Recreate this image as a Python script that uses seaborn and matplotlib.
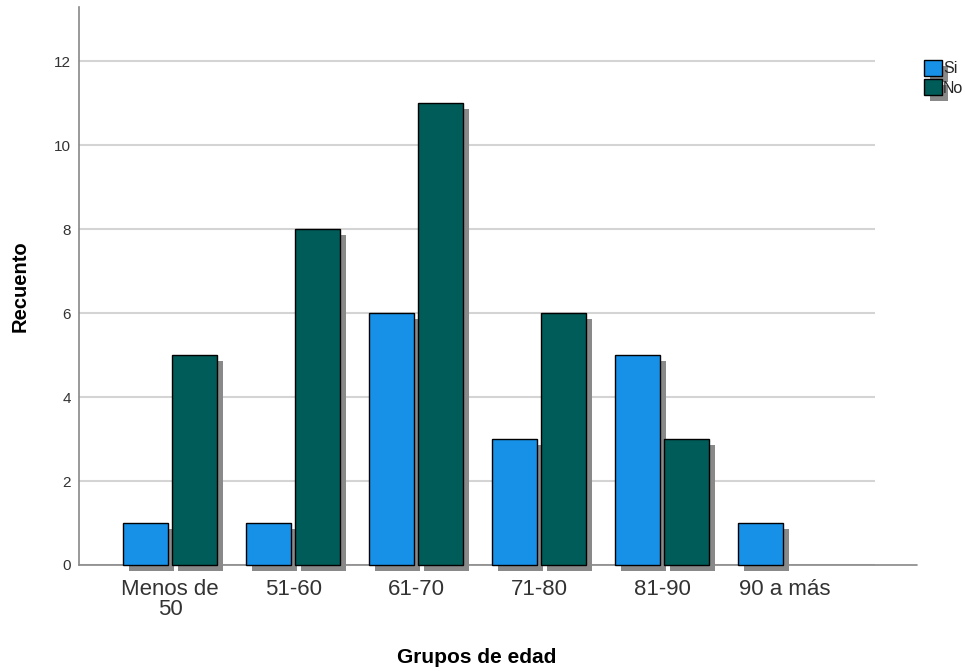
import matplotlib
matplotlib.use("Agg")
import matplotlib.pyplot as plt
import matplotlib.patheffects as pe
from matplotlib.patches import Patch
from matplotlib.lines import Line2D
import numpy as np
import pandas as pd
import seaborn as sns

# Counts per age group, split by answer
grupos = ["Menos de\n50", "51-60", "61-70", "71-80", "81-90", "90 a más"]
si = [1, 1, 6, 3, 5, 1]
no = [5, 8, 11, 6, 3, np.nan]
respuestas = ["Si", "No"]
y_ticks = [0, 2, 4, 6, 8, 10, 12]

colores = {"Si": "#1791e8", "No": "#005c58"}
sombra = "#898989"

df = pd.DataFrame({
    "Grupos de edad": grupos * 2,
    "Recuento": si + no,
    "Respuesta": ["Si"] * len(grupos) + ["No"] * len(grupos),
})

sns.set_theme(style="white")
plt.rcParams["font.family"] = ["Liberation Sans", "DejaVu Sans"]

fig = plt.figure(figsize=(9.65, 6.71), dpi=100)
ax = fig.add_axes([79 / 965, 106 / 671, (875 - 79) / 965, (565 - 7) / 671])

sns.barplot(data=df, x="Grupos de edad", y="Recuento", hue="Respuesta",
            hue_order=respuestas, order=grupos, palette=colores, saturation=1,
            width=0.8, gap=0.09, edgecolor="black", linewidth=1.0,
            errorbar=None, legend=False, ax=ax, zorder=3)

shadow = [pe.SimplePatchShadow(offset=(4.3, -4.3), shadow_rgbFace=sombra, alpha=1.0),
          pe.Normal()]
for p in ax.patches:
    p.set_path_effects(shadow)
    p.set_clip_on(False)

ax.set_xlim(-0.74, 5.73)
ax.set_ylim(0, 13.29)
ax.set_yticks(y_ticks)
ax.set_yticklabels([str(t) for t in y_ticks])
ax.yaxis.grid(True, color="#d4d4d4", linewidth=1.5, zorder=0)
ax.set_axisbelow(True)

ax.tick_params(axis="y", length=0, pad=6, labelsize=11, labelcolor="#333333")
ax.tick_params(axis="x", length=0, pad=10, labelsize=16, labelcolor="#333333")
for lbl in ax.get_xticklabels():
    lbl.set_linespacing(0.95)

for s in ["top", "right", "bottom"]:
    ax.spines[s].set_visible(False)
ax.spines["left"].set_color("#888888")
ax.spines["left"].set_linewidth(1.2)
# baseline runs past the plotting area on the right
ax.add_line(Line2D([0, (917 - 79) / (875 - 79)], [0, 0], transform=ax.transAxes,
                   color="#888888", linewidth=1.2, clip_on=False, zorder=2))

ax.set_ylabel("Recuento", fontsize=14.5, fontweight="bold", color="black", labelpad=17)
ax.set_xlabel("Grupos de edad", fontsize=15, fontweight="bold", color="black", labelpad=20)

handles = [Patch(facecolor=colores[r], edgecolor="black", linewidth=1.0, label=r)
           for r in respuestas]
leg = fig.legend(handles=handles, loc="upper left",
                 bbox_to_anchor=(911 / 965, 1 - 47 / 671), frameon=False,
                 fontsize=11.5, handlelength=1.15, handleheight=1.15,
                 handletextpad=0.05, labelspacing=0.2, borderpad=0.3)
for p in leg.get_patches():
    p.set_path_effects([pe.SimplePatchShadow(offset=(4.3, -4.3),
                                             shadow_rgbFace=sombra, alpha=1.0),
                        pe.Normal()])

fig.savefig("out.png", dpi=100)
